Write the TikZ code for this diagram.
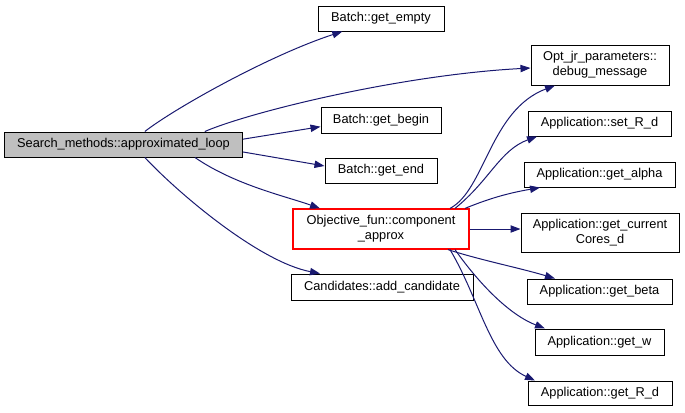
\documentclass[tikz,border=0pt]{standalone}
\usepackage{fontspec}
\setmainfont{Liberation Sans}
\usetikzlibrary{arrows.meta}
\definecolor{edgeblue}{HTML}{191970}
\definecolor{boxgrey}{HTML}{BFBFBF}
\definecolor{focusred}{RGB}{255,0,0}
\tikzset{
	box/.style={draw=black,line width=0.75pt,inner sep=0pt,align=center,font=\fontsize{9.6}{11.25}\selectfont},
	call/.style={edgeblue,line width=0.75pt,-{Triangle[length=7.5pt,width=5.5pt]}}
}

\begin{document}
\begin{tikzpicture}[x=0.75pt,y=-0.75pt]
			\useasboundingbox (0,0) rectangle (685,412);
			\node[box,fill=boxgrey,minimum width=178.5pt,minimum height=18.75pt] (main) at (123.5,144.5) {Search\_methods::approximated\_loop};
			\node[box,minimum width=94.5pt,minimum height=18.75pt] (empty) at (381,18.5) {Batch::get\_empty};
			\node[box,minimum width=90pt,minimum height=19.5pt] (begin) at (381,120) {Batch::get\_begin};
			\node[box,minimum width=84pt,minimum height=18.75pt] (end) at (381,170.5) {Batch::get\_end};
			\node[box,draw=focusred,line width=0.9pt,minimum width=132pt,minimum height=30pt] (obj) at (381,229) {Objective\_fun::component\\\_approx};
			\node[box,minimum width=136.5pt,minimum height=19.5pt] (cand) at (382,287) {Candidates::add\_candidate};

			\node[box,minimum width=103.5pt,minimum height=30pt] (opt) at (600,65) {Opt\_jr\_parameters::\\debug\_message};
			\node[box,minimum width=107.25pt,minimum height=18.75pt] (setR) at (599.5,123.5) {Application::set\_R\_d};
			\node[box,minimum width=113.25pt,minimum height=18.75pt] (alpha) at (599.5,174.5) {Application::get\_alpha};
			\node[box,minimum width=118.5pt,minimum height=29.25pt] (cores) at (600,232.5) {Application::get\_current\\Cores\_d};
			\node[box,minimum width=108.75pt,minimum height=18.75pt] (beta) at (599.5,291.5) {Application::get\_beta};
			\node[box,minimum width=96.75pt,minimum height=19.5pt] (getw) at (599.5,342) {Application::get\_w};
			\node[box,minimum width=108pt,minimum height=18pt] (getR) at (600,393) {Application::get\_R\_d};

			% calls from the loop
			\draw[call] ([xshift=16pt]main.north) .. controls (175,108) and (270,55) .. ([xshift=-29pt]empty.south);
			\draw[call] ([xshift=61pt]main.north) .. controls (250,112) and (400,75) .. ([yshift=-2.25pt]opt.west);
			\draw[call] ([yshift=4pt]main.east) -- ([yshift=-5pt]begin.west);
			\draw[call] ([yshift=-5.6pt]main.east) -- ([yshift=3.4pt]end.west);
			\draw[call] ([xshift=53.6pt]main.south) .. controls (235,185) and (285,196) .. ([xshift=-45.75pt]obj.north);
			\draw[call] ([xshift=16pt]main.south) .. controls (180,195) and (260,262) .. ([xshift=-46.5pt]cand.north);

			% calls from component_approx
			\draw[call] ([xshift=51.75pt]obj.north) .. controls (485,190) and (490,110) .. ([xshift=-33.75pt]opt.south);
			\draw[call] ([xshift=55.5pt]obj.north) .. controls (490,180) and (500,150) .. ([xshift=-46.9pt]setR.south);
			\draw[call] ([xshift=63pt]obj.north) .. controls (495,196) and (515,192) .. ([xshift=-44.6pt]alpha.south);
			\draw[call] (obj.east) -- (obj.east -| cores.west);
			\draw[call] ([xshift=50.25pt]obj.south) .. controls (480,260) and (520,268) .. ([xshift=-33.4pt]beta.north);
			\draw[call] ([xshift=55.5pt]obj.south) .. controls (480,285) and (510,315) .. ([xshift=-40.9pt]getw.north);
			\draw[call] ([xshift=51.75pt]obj.south) .. controls (480,300) and (490,360) .. ([xshift=-48.75pt]getR.north);
		\end{tikzpicture}
\end{document}
